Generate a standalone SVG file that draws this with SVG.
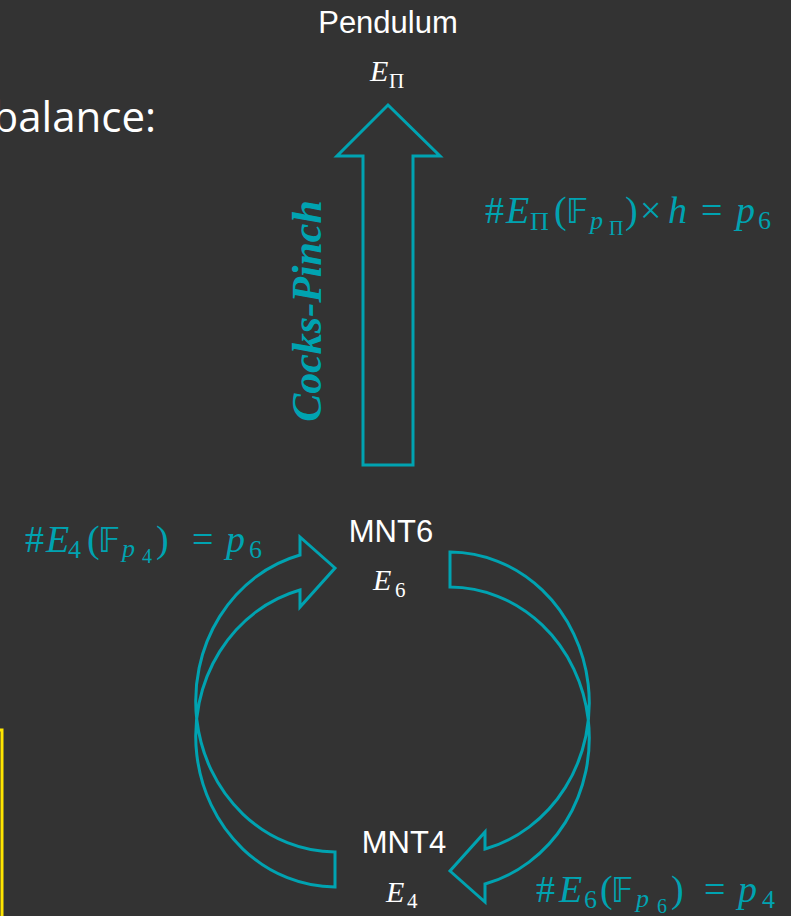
<svg xmlns="http://www.w3.org/2000/svg" width="791" height="916" viewBox="0 0 791 916">
<style>
.blk{fill:none;stroke:#00A3B1;stroke-width:3;stroke-linejoin:miter}
.lbl{font-family:"Liberation Sans",Arial,sans-serif;font-size:31px;fill:#FFFFFF;text-anchor:middle}
.m{font-family:"Liberation Serif","DejaVu Serif",serif;font-style:italic;fill:#FFFFFF;font-size:30px}
.f{font-family:"Liberation Serif","DejaVu Serif",serif;font-style:italic;fill:#00A3B1;font-size:38px}
.up{font-style:normal}
.ds{font-family:"DejaVu Sans","DejaVu Serif",sans-serif;font-style:normal;font-size:33px}
.s1{font-size:26px}
.s2{font-size:20px}
</style>
<rect x="0" y="0" width="791" height="916" fill="#333333"/>
<text x="156" y="132" font-family="Open Sans, sans-serif" font-size="42" fill="#FFFFFF" text-anchor="end">balance:</text>
<rect x="-50" y="730" width="52" height="260" fill="none" stroke="#FFE500" stroke-width="3"/>

<g id="connectors">
  <g id="edge-cockspinch">
    <polygon class="blk" points="388,105 440,156 413,156 413,465 363,465 363,156 337,156"/>
    <text transform="translate(321,311) rotate(-90)" text-anchor="middle" font-family="Liberation Serif, serif" font-style="italic" font-weight="bold" font-size="42" fill="#00A3B1">Cocks-Pinch</text>
  </g>
  <path id="edge-mnt4-mnt6" class="blk" d="M335,887 A140,151 0 0 1 300,590 L300,607 L335,568 L300,537 L300,555 A140,151 0 0 0 335,852 Z"/>
  <path id="edge-mnt6-mnt4" class="blk" d="M450,552 A140,151 0 0 1 485,849 L485,832 L450,871 L485,902 L485,884 A140,151 0 0 0 450,587 Z"/>
</g>

<g id="node-pendulum">
  <text class="lbl" x="388" y="33">Pendulum</text>
  <text class="m"><tspan x="370" y="81">E</tspan><tspan class="up" x="389" y="88" font-size="21">Π</tspan></text>
</g>
<g id="node-mnt6">
  <text class="lbl" x="391" y="542">MNT6</text>
  <text class="m"><tspan x="373" y="590">E</tspan><tspan class="up" x="395" y="597" font-size="21">6</tspan></text>
</g>
<g id="node-mnt4">
  <text class="lbl" x="404" y="853">MNT4</text>
  <text class="m"><tspan x="386" y="902">E</tspan><tspan class="up" x="407" y="908" font-size="21">4</tspan></text>
</g>

<g id="labels">
  <text class="f"><tspan class="up" x="485" y="223">#</tspan><tspan x="506" y="223">E</tspan><tspan class="up s1" x="530" y="230">Π</tspan><tspan class="up" x="554" y="223">(</tspan><tspan class="ds" x="566" y="223">𝔽</tspan><tspan class="s1" x="590" y="229">p</tspan><tspan class="up s2" x="609" y="235">Π</tspan><tspan class="up" x="625" y="223">)</tspan><tspan class="up" x="640" y="223">×</tspan><tspan x="668" y="223">h</tspan><tspan class="up" x="701" y="223">=</tspan><tspan x="736" y="223">p</tspan><tspan class="up s1" x="758" y="229">6</tspan></text>
  <text class="f"><tspan class="up" x="25" y="552">#</tspan><tspan x="46" y="552">E</tspan><tspan class="up s1" x="68" y="558">4</tspan><tspan class="up" x="87" y="552">(</tspan><tspan class="ds" x="98" y="552">𝔽</tspan><tspan class="s1" x="122" y="557">p</tspan><tspan class="up s2" x="142" y="563">4</tspan><tspan class="up" x="156" y="552">)</tspan><tspan class="up" x="192" y="552">=</tspan><tspan x="226" y="552">p</tspan><tspan class="up s1" x="249" y="558">6</tspan></text>
  <text class="f"><tspan class="up" x="536" y="902">#</tspan><tspan x="559" y="902">E</tspan><tspan class="up s1" x="584" y="908">6</tspan><tspan class="up" x="600" y="902">(</tspan><tspan class="ds" x="611" y="902">𝔽</tspan><tspan class="s1" x="636" y="907">p</tspan><tspan class="up s2" x="657" y="913">6</tspan><tspan class="up" x="671" y="902">)</tspan><tspan class="up" x="704" y="902">=</tspan><tspan x="738" y="902">p</tspan><tspan class="up s1" x="762" y="908">4</tspan></text>
</g>
</svg>
